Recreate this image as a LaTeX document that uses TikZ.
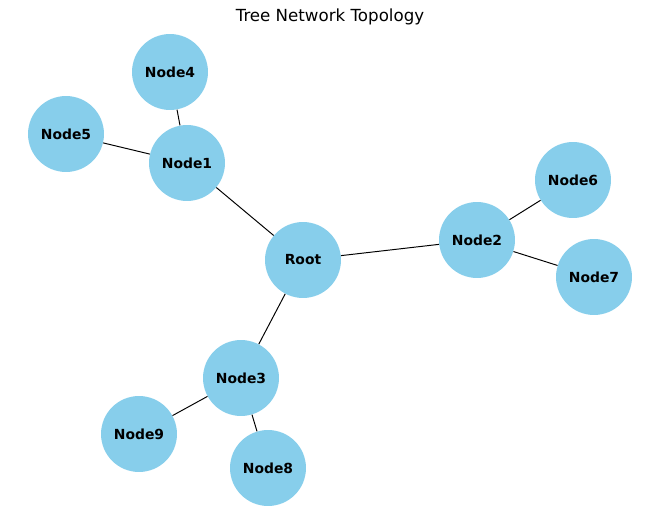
\documentclass[tikz,border=0pt]{standalone}
\usepackage{fontspec}
\setmainfont{DejaVu Sans}
\definecolor{skyblue}{HTML}{87CEEB}
\begin{document}
\begin{tikzpicture}[x=0.72pt,y=-0.72pt,
  nd/.style={circle,fill=skyblue,minimum size=54.7pt,inner sep=0pt,font=\fontsize{10}{12}\selectfont\bfseries},
  ed/.style={draw=black,line width=0.7pt}]
\useasboundingbox (0,0) rectangle (660,520);
\node at (330,17) {\fontsize{12}{14}\selectfont Tree Network Topology};
\node[nd] (root) at (303,260) {Root};
\node[nd] (n1) at (187,163) {Node1};
\node[nd] (n4) at (170,72) {Node4};
\node[nd] (n5) at (66,134) {Node5};
\node[nd] (n2) at (477,240) {Node2};
\node[nd] (n6) at (573,180) {Node6};
\node[nd] (n7) at (594,277) {Node7};
\node[nd] (n3) at (241,378) {Node3};
\node[nd] (n9) at (139,434) {Node9};
\node[nd] (n8) at (268,468) {Node8};
\begin{scope}[on background layer/.style={}]
\draw[ed] (root) -- (n1);
\draw[ed] (root) -- (n2);
\draw[ed] (root) -- (n3);
\draw[ed] (n1) -- (n4);
\draw[ed] (n1) -- (n5);
\draw[ed] (n2) -- (n6);
\draw[ed] (n2) -- (n7);
\draw[ed] (n3) -- (n9);
\draw[ed] (n3) -- (n8);
\end{scope}
\end{tikzpicture}
\end{document}
